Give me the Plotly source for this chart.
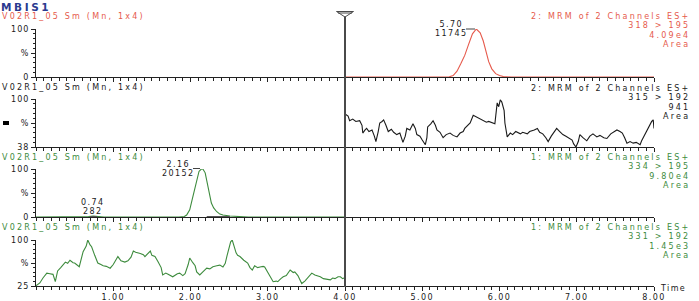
import plotly.graph_objects as go

W, H = 699, 301
FONT = "DejaVu Sans"
RED = "#e65a4c"
GREEN = "#3d8b3d"
BLACK = "#1a1a1a"
NAVY = "#2b3a8f"
AXIS = "#222222"

# ---------------- data ----------------
header = "MBIS1"
panel_title = "V02R1_05 Sm (Mn, 1x4)"
channel_info = [
    ["2: MRM of 2 Channels ES+", "318 &gt; 195", "4.09e4", "Area"],
    ["2: MRM of 2 Channels ES+", "315 &gt; 192", "941", "Area"],
    ["1: MRM of 2 Channels ES+", "334 &gt; 195", "9.80e4", "Area"],
    ["1: MRM of 2 Channels ES+", "331 &gt; 192", "1.45e3", "Area"],
]
y_ranges = [[0, 100], [38, 100], [0, 100], [25, 100]]
y_ticktext = [["0", "%", "100"], ["38", "%", "100"], ["0", "%", "100"], ["25", "%", "100"]]
x_ticks = [1, 2, 3, 4, 5, 6, 7, 8]
marker_time = 4.0

# panel 1 (red) 318 > 195
p1_t = [4.00, 5.30, 5.35, 5.40, 5.45, 5.50, 5.55, 5.60, 5.65, 5.70, 5.75, 5.79, 5.82,
        5.86, 5.90, 5.95, 6.00, 6.05, 6.15, 8.00]
p1_v = [0, 0, 0.5, 3, 12, 28, 45, 68, 90, 100, 92, 75, 55, 32, 17, 7, 3, 1, 0, 0]

# panel 2 (black) 315 > 192
p2_t = [4.01, 4.04, 4.06, 4.10, 4.14, 4.19, 4.22, 4.23, 4.26, 4.28, 4.31, 4.35, 4.38, 4.40,
        4.43, 4.45, 4.48, 4.50, 4.53, 4.56, 4.60, 4.63, 4.67, 4.71, 4.75, 4.78, 4.80, 4.84,
        4.88, 4.91, 4.93, 4.97, 5.00, 5.04, 5.06, 5.07, 5.11, 5.14, 5.17, 5.19, 5.23, 5.27,
        5.31, 5.36, 5.40, 5.45, 5.49, 5.53, 5.55, 5.59, 5.62, 5.66, 5.70, 5.75, 5.79, 5.83,
        5.86, 5.90, 5.94, 5.97, 5.99, 6.01, 6.03, 6.06, 6.07, 6.10, 6.14, 6.17, 6.21, 6.27,
        6.30, 6.36, 6.39, 6.45, 6.49, 6.52, 6.56, 6.60, 6.63, 6.67, 6.71, 6.74, 6.78, 6.82,
        6.86, 6.90, 6.94, 6.96, 6.99, 7.02, 7.04, 7.08, 7.13, 7.17, 7.21, 7.26, 7.30, 7.35,
        7.39, 7.44, 7.48, 7.52, 7.56, 7.59, 7.62, 7.65, 7.69, 7.73, 7.77, 7.82, 7.84, 7.88,
        7.92, 7.95, 7.97, 7.99, 8.00]
p2_v = [80, 78, 72, 74, 71, 72, 66, 56, 60, 62, 58, 60, 52, 45,
        58, 69, 71, 73, 66, 58, 61, 57, 54, 56, 44, 52, 62, 60,
        68, 62, 54, 52, 47, 41, 50, 64, 68, 72, 66, 60, 57, 50,
        54, 56, 53, 51, 56, 58, 62, 66, 69, 79, 77, 75, 73, 70,
        71, 69, 68, 95, 90, 99, 96, 85, 69, 51, 56, 54, 58, 55,
        57, 55, 58, 60, 62, 57, 55, 50, 45, 52, 58, 62, 58, 54,
        52, 50, 47, 42, 38, 45, 54, 50, 46, 52, 55, 51, 53, 50,
        49, 55, 58, 60, 58, 56, 50, 43, 45, 43, 44, 41, 46, 54,
        60, 66, 71, 73, 62]

# panel 3 (green) 334 > 195
p3_t = [0.00, 0.60, 0.68, 0.74, 0.80, 0.88, 1.85, 1.92, 1.95, 1.99, 2.02, 2.05, 2.08, 2.11,
        2.14, 2.16, 2.19, 2.21, 2.23, 2.25, 2.27, 2.30, 2.34, 2.38, 2.42, 2.51, 2.60, 2.75, 4.00]
p3_v = [0, 0, 1, 2, 1, 0, 0, 1, 4, 15, 35, 57, 77, 95,
        100, 100, 92, 75, 56, 40, 29, 19, 11, 6, 4, 2, 1, 0, 0]
p3_base_a_t = [0.70, 0.79]
p3_base_b_t = [2.21, 2.51]

# panel 4 (green) 331 > 192
p4_t = [0.00, 0.03, 0.05, 0.09, 0.14, 0.18, 0.22, 0.25, 0.28, 0.32, 0.38, 0.41, 0.44, 0.48,
        0.50, 0.56, 0.58, 0.61, 0.65, 0.67, 0.70, 0.72, 0.76, 0.80, 0.84, 0.87, 0.91, 0.96,
        1.00, 1.02, 1.06, 1.10, 1.15, 1.19, 1.23, 1.26, 1.29, 1.35, 1.39, 1.41, 1.45, 1.48,
        1.50, 1.54, 1.58, 1.62, 1.64, 1.68, 1.71, 1.75, 1.77, 1.83, 1.86, 1.90, 1.93, 1.97,
        1.99, 2.03, 2.06, 2.08, 2.12, 2.16, 2.21, 2.25, 2.29, 2.34, 2.38, 2.42, 2.45, 2.47,
        2.50, 2.52, 2.54, 2.56, 2.59, 2.61, 2.64, 2.69, 2.74, 2.77, 2.80, 2.83, 2.87, 2.90,
        2.94, 2.96, 3.00, 3.03, 3.07, 3.11, 3.13, 3.17, 3.20, 3.24, 3.26, 3.29, 3.33, 3.35,
        3.39, 3.42, 3.44, 3.48, 3.51, 3.55, 3.57, 3.61, 3.64, 3.68, 3.72, 3.75, 3.81, 3.84,
        3.87, 3.91, 3.94, 3.97, 4.00]
p4_v = [25.5, 28, 30, 38, 46, 45, 44, 32, 49.5, 55, 64, 62, 67, 63,
        62.5, 56.5, 66, 81, 90, 100, 92, 89, 75, 62.5, 60, 58, 57, 54,
        60, 64.6, 73, 66, 64, 66, 72, 82, 80, 78, 76, 73, 79, 82,
        75, 73, 64.6, 55, 43, 46, 44, 42, 40, 45, 46, 42, 45, 60,
        70.6, 63, 58, 48, 43, 48, 54, 53, 56.5, 58, 59, 56, 62, 73,
        88, 97, 100, 90, 79, 75, 73, 67, 62.5, 55, 51, 58, 55, 56,
        57, 56, 48, 40, 32, 33, 32, 37, 40, 42, 45, 51, 47, 48,
        42, 35, 29, 33, 37.5, 43, 46, 43, 42, 40, 37, 36, 35, 38,
        37, 40, 40, 37, 39]

peak_labels = [  # panel, label time, area
    (0, "5.70", "11745"),
    (2, "2.16", "20152"),
    (2, "0.74", "282"),
]

# ---------------- layout helpers ----------------
def px(x):
    return x / W

def py(y):
    return 1 - y / H

def sp(s, ls=2.2, size=None):
    st = f"letter-spacing:{ls}px"
    if size:
        st = f"font-size:{size}px;" + st
    return f'<span style="{st}">{s}</span>'

TXT = 8                  # font size of the small texts
LINE_PX = 9.3            # pixel spacing between stacked text lines
BASE = LINE_PX / 1.3     # base size so that plotly's 1.3em line step = LINE_PX

def block(lines, ls=2.2, size=TXT):
    return "<br>".join(sp(l, ls, size) for l in lines)

# pixel geometry of each panel: (top of range, bottom of range)
panel_px = [(29, 77), (99, 147), (169, 217), (240, 286)]
title_py = [16, 87.5, 157, 227]
colors = [RED, BLACK, GREEN, GREEN]
X0, X1 = 36, 654

fig = go.Figure()

series = [(p1_t, p1_v), (p2_t, p2_v), (p3_t, p3_v), (p4_t, p4_v)]
for i, (t, v) in enumerate(series):
    n = "" if i == 0 else str(i + 1)
    fig.add_trace(go.Scatter(x=t, y=v, mode="lines", xaxis="x" + n, yaxis="y" + n,
                             line=dict(color=colors[i], width=1.1), showlegend=False,
                             hoverinfo="skip"))
for bt in (p3_base_a_t, p3_base_b_t):
    fig.add_trace(go.Scatter(x=bt, y=[0, 0], mode="lines", xaxis="x3", yaxis="y3",
                             line=dict(color="#555555", width=2), showlegend=False,
                             hoverinfo="skip"))

layout = dict(width=W, height=H, margin=dict(l=0, r=0, t=0, b=0, autoexpand=False),
              paper_bgcolor="white", plot_bgcolor="white",
              font=dict(family=FONT, size=TXT, color=BLACK), showlegend=False)

for i in range(4):
    n = "" if i == 0 else str(i + 1)
    top, bot = panel_px[i]
    lo, hi = y_ranges[i]
    mid = (lo + hi) / 2
    last = i == 3
    layout["xaxis" + n] = dict(
        domain=[px(X0), px(X1)], range=[0, 8], anchor="y" + n, automargin=False,
        showline=True, linecolor=AXIS, linewidth=1, mirror=False,
        showgrid=False, zeroline=False,
        ticks="outside", ticklen=4, tickcolor=AXIS, tickwidth=1,
        tickmode="array", tickvals=x_ticks,
        ticktext=[sp(f"{v:.2f}", 1.4) for v in x_ticks],
        showticklabels=last, tickfont=dict(family=FONT, size=TXT, color=BLACK),
        ticklabelstandoff=-1,
        minor=dict(tickmode="linear", tick0=0, dtick=0.1, ticks="outside",
                   ticklen=2.5, tickcolor=AXIS, showgrid=False),
        fixedrange=True,
    )
    layout["yaxis" + n] = dict(
        domain=[py(bot), py(top)], range=[lo, hi], anchor="x" + n, automargin=False,
        showline=True, linecolor=AXIS, linewidth=1,
        showgrid=False, zeroline=False,
        ticks="outside", ticklen=4, tickcolor=AXIS,
        tickmode="array", tickvals=[lo, mid, hi],
        ticktext=[sp(s, 1.0) for s in y_ticktext[i]],
        tickfont=dict(family=FONT, size=TXT, color=BLACK),
        minor=dict(tickmode="linear", tick0=lo, dtick=(hi - lo) / 10, ticks="outside",
                   ticklen=2, tickcolor=AXIS, showgrid=False),
        fixedrange=True,
    )

annotations = []

def ann(text, x, y, color, xanchor="left", size=TXT, align="left", yanchor="middle"):
    annotations.append(dict(text=text, x=px(x), y=py(y), xref="paper", yref="paper",
                            xanchor=xanchor, yanchor=yanchor, showarrow=False, align=align,
                            font=dict(family=FONT, size=size, color=color),
                            borderpad=0))

ann("<b>" + sp(header, 2.6) + "</b>", 0, 0, NAVY, size=10.5, yanchor="top")
for i in range(4):
    ann(sp(panel_title), 1, title_py[i], colors[i])
    lines = channel_info[i]
    center = title_py[i] + 0.7 + (len(lines) - 1) * LINE_PX / 2
    ann(block(lines), 691, center, colors[i], xanchor="right", size=BASE, align="right")

# peak labels (two stacked lines: retention time, area)
peak_label_px = {"5.70": (451, 29.0), "2.16": (177.5, 168.6), "0.74": (92, 207.0)}
for pnl, lab, area in peak_labels:
    cx, cy = peak_label_px[lab]
    ann(block([lab, area], 1.4), cx, cy, BLACK, xanchor="center", size=BASE, align="center")

ann(sp("Time", 1.4), 659, 288, BLACK)

shapes = []
# connector ticks from labels to peak apex
shapes.append(dict(type="line", xref="paper", yref="paper", x0=px(466), x1=px(475),
                   y0=py(29), y1=py(29), line=dict(color="#444", width=1)))
shapes.append(dict(type="line", xref="paper", yref="paper", x0=px(193), x1=px(200),
                   y0=py(168.5), y1=py(168.5), line=dict(color="#444", width=1)))
# vertical time marker
shapes.append(dict(type="line", xref="x", yref="paper", x0=marker_time, x1=marker_time,
                   y0=py(287), y1=py(16), line=dict(color="#4a4a4a", width=2)))
# triangle head of the marker
tx = X0 + marker_time * (X1 - X0) / 8
tri = (f"M {px(tx - 8.5)},{py(11.5)} L {px(tx + 8.5)},{py(11.5)} "
       f"L {px(tx)},{py(17)} Z")
shapes.append(dict(type="path", xref="paper", yref="paper", path=tri,
                   fillcolor="white", line=dict(color="#4a4a4a", width=1)))
shapes.append(dict(type="line", xref="paper", yref="paper", x0=px(tx - 7), x1=px(tx + 7),
                   y0=py(13), y1=py(13), line=dict(color="#4a4a4a", width=1)))
# small black marker next to panel 2 axis label
shapes.append(dict(type="rect", xref="paper", yref="paper", x0=px(3), x1=px(9),
                   y0=py(125), y1=py(121), fillcolor="black", line=dict(width=0)))

layout["annotations"] = annotations
layout["shapes"] = shapes
fig.update_layout(**layout)
fig.write_html("out.html")
